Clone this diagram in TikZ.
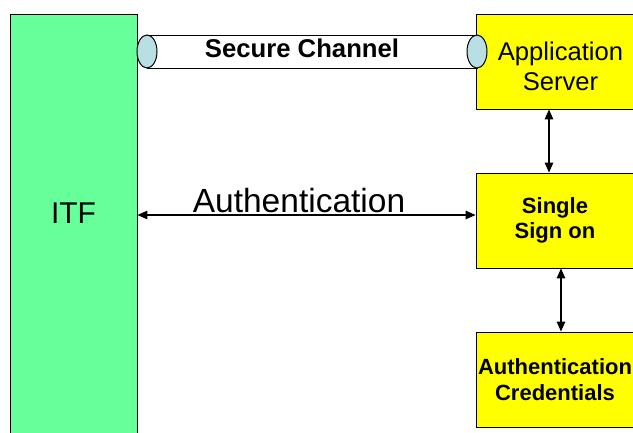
\documentclass[tikz,border=0pt]{standalone}
\usepackage{fontspec}
\setmainfont{Liberation Sans}
\usetikzlibrary{arrows.meta}
\definecolor{itfgreen}{RGB}{102,255,153}
\definecolor{boxyellow}{RGB}{255,255,0}
\definecolor{tubeblue}{RGB}{185,223,228}
\begin{document}
\begin{tikzpicture}[x=1pt,y=-1pt,
  greenbox/.style={draw=black,line width=0.8pt,fill=itfgreen,inner sep=0pt},
  yellowbox/.style={draw=black,line width=0.8pt,fill=boxyellow,inner sep=0pt,align=center},
  tubeend/.style={draw=black,line width=1pt,fill=tubeblue},
  conn/.style={line width=1.2pt,{Triangle[length=10pt,width=8.5pt]}-{Triangle[length=10pt,width=8.5pt]}}]
\useasboundingbox (0,0) rectangle (633,432);
\clip (0,0) rectangle (633,432);
\fill[white] (0,0) rectangle (633,432);
% ITF
\node[greenbox,minimum width=127pt,minimum height=436pt] (itf) at (73.5,232) {};
\node[font=\fontsize{30}{34}\selectfont] (itft) at (73.5,213) {ITF};
% boxes
\node[yellowbox,minimum width=169pt,minimum height=95pt,font=\fontsize{25.6}{30}\selectfont] (app) at (560.5,61.5) {\rule{0pt}{29pt}Application\\Server};
\node[yellowbox,minimum width=158pt,minimum height=95pt,font=\bfseries\fontsize{22}{25.5}\selectfont] (sso) at (555,220.5) {Single\\Sign on};
\node[yellowbox,minimum width=158pt,minimum height=95pt,font=\bfseries\fontsize{22}{26}\selectfont] (cred) at (555,379.5) {Authentication\\Credentials};
% secure channel tube
\coordinate (tl) at (147,35);
\coordinate (tr) at (477,35);
\coordinate (bl) at (147,68);
\coordinate (br) at (477,68);
\filldraw[fill=white,draw=black,line width=1pt] (tl) -- (tr) -- (br) -- (bl) -- cycle;
\filldraw[tubeend] (147,51.5) ellipse [x radius=10, y radius=16.5];
\filldraw[tubeend] (477,51.5) ellipse [x radius=10, y radius=16.5];
\node[font=\bfseries\fontsize{25.7}{30}\selectfont] (sc) at (302,48) {Secure Channel};
% connectors
\coordinate (a1) at (549,0);
\coordinate (a2) at (561,0);
\coordinate (ay) at (0,215);
\draw[conn] (app.south -| a1) -- (sso.north -| a1);
\draw[conn] (sso.south -| a2) -- (cred.north -| a2);
\draw[conn] (itf.east |- ay) -- (sso.west |- ay);
\node[font=\fontsize{33.5}{38}\selectfont] (authl) at (299,201) {Authentication};
\end{tikzpicture}
\end{document}
